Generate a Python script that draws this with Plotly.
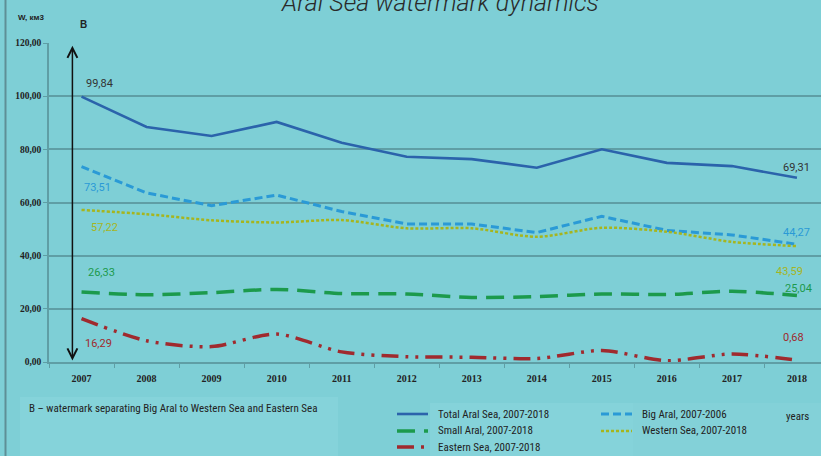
import plotly.graph_objects as go

years = ["2007", "2008", "2009", "2010", "2011", "2012", "2013", "2014", "2015", "2016", "2017", "2018"]
total_aral = [99.84, 88.4, 85.0, 90.3, 82.5, 77.2, 76.3, 73.1, 80.0, 74.9, 73.7, 69.31]
big_aral = [73.51, 63.6, 58.8, 62.8, 56.6, 51.9, 51.9, 48.7, 54.8, 49.5, 47.8, 44.27]
western_sea = [57.22, 55.6, 53.3, 52.5, 53.4, 50.3, 50.3, 47.1, 50.5, 49.0, 45.2, 43.59]
small_aral = [26.33, 25.3, 26.1, 27.3, 25.8, 25.6, 24.3, 24.6, 25.6, 25.4, 26.6, 25.04]
eastern_sea = [16.29, 8.0, 5.8, 10.5, 3.8, 2.0, 1.8, 1.3, 4.3, 0.5, 3.0, 0.68]
y_ticks = [0, 20, 40, 60, 80, 100, 120]

W, H = 821, 456
ML, MR, MT, MB = 49, 0, 43, 94
PW, PH = W - ML - MR, H - MT - MB


def px(x):
    return (x - ML) / PW


def py(y):
    return (H - MB - y) / PH


BG = "#7ECFD6"
GRID = "#5F9EA5"
C_TOTAL = "#2B63AB"
C_BIG = "#2A9AD6"
C_WEST = "#A6B51E"
C_SMALL = "#1C9A4C"
C_EAST = "#A02A2E"

series = [
    ("Total Aral Sea, 2007-2018", total_aral, C_TOTAL, "solid", 2.6, "linear"),
    ("Big Aral, 2007-2006", big_aral, C_BIG, "8px,4px", 3, "linear"),
    ("Western Sea, 2007-2018", western_sea, C_WEST, "3px,2px", 2.5, "spline"),
    ("Small Aral, 2007-2018", small_aral, C_SMALL, "18px,9px", 3.5, "spline"),
    ("Eastern Sea, 2007-2018", eastern_sea, C_EAST, "17px,7px,3px,7px,3px,7px", 3.5, "spline"),
]

fig = go.Figure()
for name, vals, col, dash, w, shape in series:
    fig.add_trace(go.Scatter(
        x=years, y=vals, mode="lines", name=name,
        line=dict(color=col, dash=dash, width=w, shape=shape, smoothing=0.8),
        showlegend=False, hoverinfo="skip"))


def fmt(v):
    return f"{v:.2f}".replace(".", ",")


label_specs = [
    (total_aral, 0, "#333333", 18, 13),
    (total_aral, 11, "#333333", 0, 10),
    (big_aral, 0, C_BIG, 16, -21),
    (big_aral, 11, C_BIG, 0, 12),
    (western_sea, 0, C_WEST, 23, -18),
    (western_sea, 11, C_WEST, -7, -25),
    (small_aral, 0, C_SMALL, 20, 20),
    (small_aral, 11, C_SMALL, 2, 7),
    (eastern_sea, 0, C_EAST, 17, -25),
    (eastern_sea, 11, C_EAST, -3, 23),
]
label_font = "Roboto Condensed, Liberation Sans Narrow, DejaVu Sans Condensed, Roboto"
for vals, i, col, xs, ys in label_specs:
    fig.add_annotation(x=i, y=vals[i], xref="x", yref="y", text=fmt(vals[i]), showarrow=False,
                       xanchor="center", yanchor="middle",
                       xshift=xs, yshift=ys, font=dict(family="Roboto", size=11, color=col))

# Double arrow "B"
fig.add_annotation(x=-0.14, y=0.6, ax=-0.14, ay=119.5, xref="x", yref="y", axref="x", ayref="y",
                   text="", showarrow=True, arrowhead=5, startarrowhead=5, arrowside="end+start",
                   arrowwidth=1.5, arrowsize=1.3, startarrowsize=1.3, arrowcolor="#111111")


def note(x, y, text, size, family, xanchor="center", **fkw):
    fig.add_annotation(x=px(x), y=py(y), xref="paper", yref="paper", text=text, showarrow=False,
                       xanchor=xanchor, yanchor="middle",
                       font=dict(family=family, size=size, color=fkw.pop("color", "#222222"), **fkw))


note(83, 25, "<b>B</b>", 10, "Liberation Sans")
note(31, 18, "<b>W, км3</b>", 8, "Liberation Sans")
# Title (cut off at the top edge, as in the reference)
note(440, 2, "Aral Sea watermark dynamics", 25, "Roboto", color="#2a2a2a", style="italic", weight=300)

# Lighter boxes under notes / legend
shapes = [
    dict(type="rect", xref="paper", yref="paper", x0=px(20), x1=px(338), y0=py(456), y1=py(397),
         fillcolor="#85D3DA", line=dict(width=0), layer="below"),
    dict(type="rect", xref="paper", yref="paper", x0=px(430), x1=px(633), y0=py(456), y1=py(403),
         fillcolor="#85D3DA", line=dict(width=0), layer="below"),
    dict(type="rect", xref="paper", yref="paper", x0=px(633), x1=px(821), y0=py(456), y1=py(403),
         fillcolor="#83D1D8", line=dict(width=0), layer="below"),
    dict(type="line", xref="paper", yref="paper", x0=px(5.5), x1=px(5.5), y0=py(0), y1=py(456),
         line=dict(color="#5E8F96", width=2)),
]

legend_items = [
    (series[0], 397, 414),
    (series[3], 397, 431),
    (series[4], 397, 447),
    (series[1], 601, 414),
    (series[2], 601, 431),
]
for (name, vals, col, dash, w, shape), lx, ly in legend_items:
    shapes.append(dict(type="line", xref="paper", yref="paper", x0=px(lx), x1=px(lx + 31),
                       y0=py(ly), y1=py(ly), line=dict(color=col, dash=dash, width=w)))
    note(lx + 39, ly, name, 11, label_font, xanchor="left")

note(797, 416, "years", 11, label_font)
note(27, 408, "B – watermark separating Big Aral to Western Sea and Eastern Sea", 11, label_font,
     xanchor="left")

fig.update_layout(
    width=W, height=H, margin=dict(l=ML, r=MR, t=MT, b=MB),
    paper_bgcolor=BG, plot_bgcolor=BG, separators=", ",
    shapes=shapes, showlegend=False,
    xaxis=dict(type="category", range=[-0.5, 11.37], tickson="boundaries", ticks="outside",
               ticklen=4, tickcolor=GRID, showgrid=False, showline=True, linecolor=GRID, linewidth=1.5,
               ticklabelstandoff=6,
               tickfont=dict(family="Liberation Serif", size=10, color="#222222", weight="bold"),
               tickangle=0),
    yaxis=dict(range=[0, 120], tickvals=y_ticks, tickformat=".2f", ticks="outside", ticklen=4,
               tickcolor=GRID, gridcolor=GRID, gridwidth=1.5, showline=True, linecolor=GRID, linewidth=1.5,
               zeroline=False,
               tickfont=dict(family="Liberation Serif", size=9.5, color="#222222", weight="bold")),
)

fig.write_html("out.html", config={"displayModeBar": False},
               post_script="document.body.style.margin='0';document.body.style.overflow='hidden';")
